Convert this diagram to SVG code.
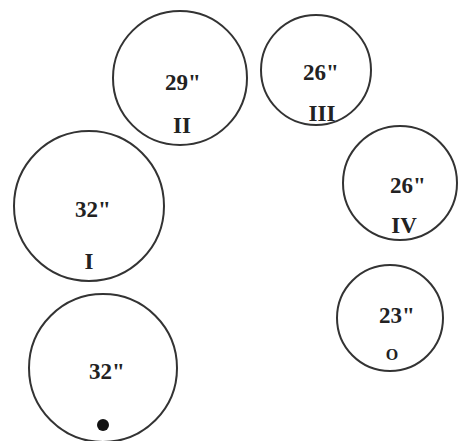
<svg xmlns="http://www.w3.org/2000/svg" width="458" height="441" viewBox="0 0 458 441">
<style>
.c{fill:none;stroke:#333;stroke-width:2}
.t{font-family:"Liberation Serif","Times New Roman",serif;font-weight:bold;font-size:23px;fill:#222;text-anchor:middle}
.s{font-size:16px}
</style>
<rect width="458" height="441" fill="#fff"/>
<g id="nodeII"><circle class="c" cx="180" cy="78" r="67"/><text class="t" x="183" y="90">29"</text><text class="t" x="182" y="133">II</text></g>
<g id="nodeIII"><circle class="c" cx="316" cy="70" r="55"/><text class="t" x="321" y="80">26"</text><text class="t" x="322" y="121">III</text></g>
<g id="nodeI"><circle class="c" cx="89" cy="206" r="75"/><text class="t" x="93" y="217">32"</text><text class="t" x="89" y="269">I</text></g>
<g id="nodeIV"><circle class="c" cx="400" cy="183" r="57"/><text class="t" x="408" y="193">26"</text><text class="t" x="404" y="233">IV</text></g>
<g id="nodeO"><circle class="c" cx="390" cy="318" r="53"/><text class="t" x="397" y="323">23"</text><text class="t s" x="392" y="360">O</text></g>
<g id="nodeStart"><circle class="c" cx="103" cy="368" r="74"/><text class="t" x="107" y="379">32"</text><circle cx="103" cy="425" r="6" fill="#111"/></g>
<g id="connectors"/>
</svg>
